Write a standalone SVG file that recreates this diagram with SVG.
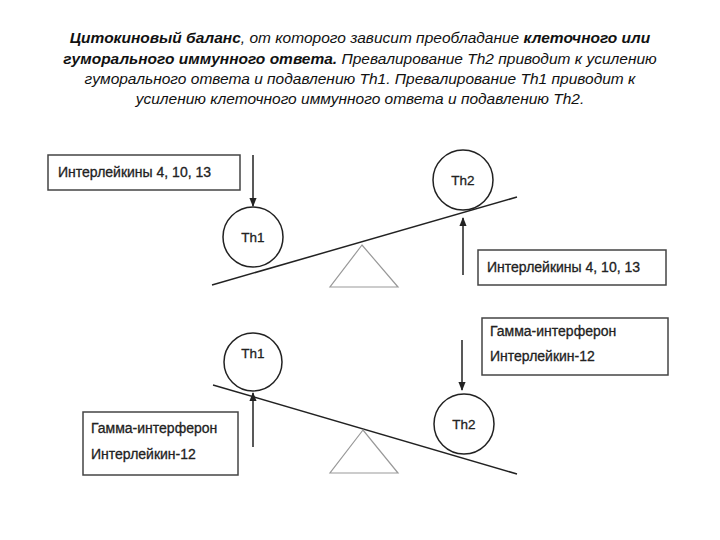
<svg xmlns="http://www.w3.org/2000/svg" width="720" height="540" viewBox="0 0 720 540">
<style>
.t{font-family:"Liberation Sans",Arial,sans-serif;font-size:15.5px;font-style:italic;text-anchor:middle;fill:#111}
.b{font-weight:bold}
.l{font-family:"Liberation Sans",Arial,sans-serif;font-size:14px;fill:#222;stroke:#222;stroke-width:0.3}
.c{font-family:"Liberation Sans",Arial,sans-serif;font-size:13.5px;fill:#222;text-anchor:middle;stroke:#222;stroke-width:0.3}
.s{fill:none;stroke:#222;stroke-width:1.5}
.box{fill:#fff;stroke:#444;stroke-width:1.5}
.tri{fill:none;stroke:#999;stroke-width:1.2}
</style>
<defs><marker id="a" viewBox="0 0 10 10" refX="9" refY="5" markerWidth="6" markerHeight="7" orient="auto"><path d="M0,1L10,5L0,9z" fill="#222"/></marker></defs>
<rect width="720" height="540" fill="#fff"/>
<text class="t" x="360" y="43"><tspan class="b">Цитокиновый баланс</tspan>, от которого зависит преобладание <tspan class="b">клеточного или</tspan></text>
<text class="t" x="360" y="64"><tspan class="b">гуморального иммунного ответа.</tspan> Превалирование Th2 приводит к усилению</text>
<text class="t" x="360" y="84">гуморального ответа и подавлению Th1. Превалирование Th1 приводит к</text>
<text class="t" x="360" y="104">усилению клеточного иммунного ответа и подавлению Th2.</text>
<g id="connectors">
<line class="s" x1="253" y1="155" x2="253" y2="206" marker-end="url(#a)"/>
<line class="s" x1="463" y1="275" x2="463" y2="218" marker-end="url(#a)"/>
<line class="s" x1="462" y1="340" x2="462" y2="390" marker-end="url(#a)"/>
<line class="s" x1="253" y1="447" x2="253" y2="393" marker-end="url(#a)"/>
</g>
<g id="top-beam"><line class="s" x1="212" y1="285" x2="517" y2="197"/><polygon class="tri" points="362,245 330,287 398,287"/></g>
<g id="top-th1"><circle class="s" cx="253" cy="237" r="30"/><text class="c" x="253" y="242">Th1</text></g>
<g id="top-th2"><circle class="s" cx="463" cy="180" r="30"/><text class="c" x="463" y="185">Th2</text></g>
<g id="top-box-left"><rect class="box" x="48" y="155" width="192" height="35"/><text class="l" x="58" y="177">Интерлейкины 4, 10, 13</text></g>
<g id="top-box-right"><rect class="box" x="478" y="250" width="188" height="35"/><text class="l" x="487" y="272">Интерлейкины 4, 10, 13</text></g>
<g id="bot-beam"><line class="s" x1="213" y1="385" x2="517" y2="474"/><polygon class="tri" points="363,430 330,473 398,473"/></g>
<g id="bot-th1"><circle class="s" cx="253" cy="362" r="29"/><text class="c" x="253" y="358">Th1</text></g>
<g id="bot-th2"><circle class="s" cx="464" cy="424" r="30"/><text class="c" x="464" y="429">Th2</text></g>
<g id="bot-box-right"><rect class="box" x="482" y="318" width="186" height="57"/><text class="l" x="490" y="336">Гамма-интерферон</text><text class="l" x="490" y="361">Интерлейкин-12</text></g>
<g id="bot-box-left"><rect class="box" x="83" y="412" width="155" height="63"/><text class="l" x="91" y="433">Гамма-интерферон</text><text class="l" x="91" y="459">Интерлейкин-12</text></g>
</svg>
